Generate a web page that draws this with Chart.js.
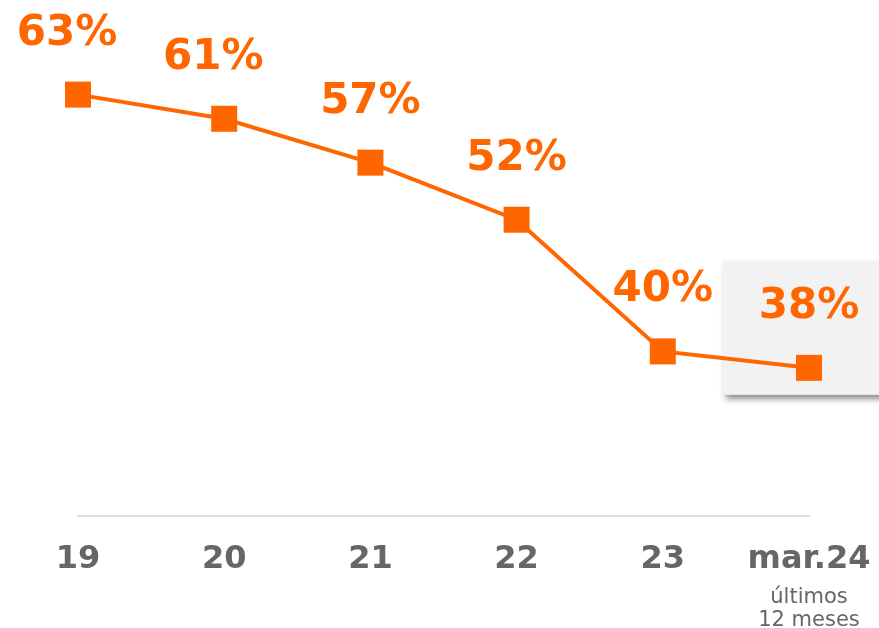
<!DOCTYPE html>
<html>
<head>
<meta charset="utf-8">
<script src="https://cdn.jsdelivr.net/npm/chart.js@4/dist/chart.umd.min.js"></script>
<style>
  html, body { margin: 0; padding: 0; background: #fff; font-family: 'DejaVu Sans', sans-serif; }
  #wrap { width: 879px; height: 628px; position: relative; }
</style>
</head>
<body>
<div id="wrap"><canvas id="chart"></canvas></div>
<script>
// ─── Data ─────────────────────────────────────────────────────────────────────

const categories = ['19', '20', '21', '22', '23', 'mar.24'];
const shareValues = [63.2, 61.0, 57.0, 51.8, 39.8, 38.3];
const lastNote = ['últimos', '12 meses'];

const ORANGE = '#FF6600';
const GREY = '#666666';
const FONT = "'DejaVu Sans', sans-serif";

// ─── Plugins ──────────────────────────────────────────────────────────────────

// gray highlight box behind the last point
const highlightBox = {
  id: 'highlightBox',
  beforeDatasetsDraw(chart) {
    const meta = chart.getDatasetMeta(0);
    const p = meta.data[meta.data.length - 1];
    const ctx = chart.ctx;
    ctx.save();
    ctx.shadowColor = 'rgba(0,0,0,0.45)';
    ctx.shadowOffsetX = 3;
    ctx.shadowOffsetY = 4;
    ctx.shadowBlur = 6;
    ctx.fillStyle = '#f2f2f2';
    ctx.fillRect(p.x - 86, p.y - 107, chart.width - (p.x - 86) + 10, 134);
    ctx.restore();
  }
};

// percent labels above points + note under the last tick
const valueLabels = {
  id: 'valueLabels',
  afterDatasetsDraw(chart) {
    const ctx = chart.ctx;
    const meta = chart.getDatasetMeta(0);
    ctx.save();
    ctx.font = 'bold 42px ' + FONT;
    ctx.fillStyle = ORANGE;
    ctx.textAlign = 'center';
    ctx.textBaseline = 'alphabetic';
    meta.data.forEach((pt, i) => {
      // the first two labels sit a bit left of their point in the original
      const nudge = i < 2 ? -11 : 0;
      ctx.fillText(Math.round(shareValues[i]) + '%', pt.x + nudge, pt.y - 50);
    });

    const xs = chart.scales.x;
    const lx = xs.getPixelForValue(categories.length - 1);
    ctx.font = '21px ' + FONT;
    ctx.fillStyle = GREY;
    lastNote.forEach((line, i) => {
      ctx.fillText(line, lx, 603 + i * 23);
    });
    ctx.restore();
  }
};

// ─── Chart ────────────────────────────────────────────────────────────────────

new Chart(document.getElementById('chart'), {
  type: 'line',
  data: {
    labels: categories,
    datasets: [{
      data: shareValues,
      borderColor: ORANGE,
      borderWidth: 4,
      backgroundColor: ORANGE,
      pointStyle: 'rect',
      pointRadius: 18.4,
      pointBorderWidth: 0,
      pointBackgroundColor: ORANGE,
      tension: 0,
      clip: false,
    }],
  },
  options: {
    responsive: true,
    maintainAspectRatio: false,
    animation: false,
    layout: { padding: { top: 20, left: 78, right: 70, bottom: 42 } },
    plugins: { legend: { display: false }, tooltip: { enabled: false } },
    scales: {
      x: {
        offset: false,
        grid: { display: false, drawTicks: false },
        border: { display: true, color: '#dcdcdc', width: 2 },
        ticks: {
          color: GREY,
          padding: 24,
          maxRotation: 0,
          autoSkip: false,
          font: { family: FONT, size: 32, weight: 'bold' },
        },
        afterFit(scale) {
          scale.height = 70;
          scale.paddingLeft = 0;
          scale.paddingRight = 0;
        },
      },
      y: {
        display: false,
        min: 24.8,
        max: 70,
      },
    },
  },
  plugins: [highlightBox, valueLabels],
});
</script>
</body>
</html>
